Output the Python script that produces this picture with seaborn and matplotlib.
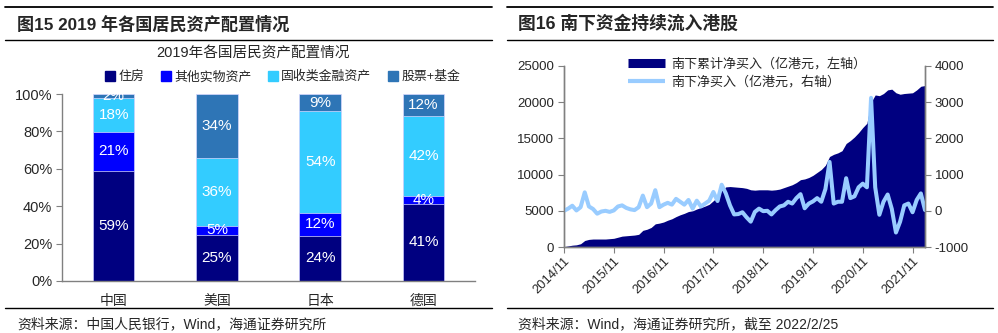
import numpy as np
import pandas as pd
import matplotlib
matplotlib.use("Agg")
import matplotlib.pyplot as plt
import seaborn as sns
from matplotlib.lines import Line2D

# ---------------- data: left chart ----------------
countries = ["中国", "美国", "日本", "德国"]
asset_names = ["住房", "其他实物资产", "固收类金融资产", "股票+基金"]
housing = [59.0, 24.8, 24.2, 41.4]
other_real = [20.8, 4.8, 12.3, 4.2]
fixed_income = [18.3, 36.2, 54.4, 42.4]
equity_fund = [1.9, 34.2, 9.1, 12.0]

# ---------------- data: right chart ----------------
months = pd.date_range("2014-11-01", "2022-02-01", freq="MS")
cum_buy = [50, 150, 250, 300, 450, 900, 1050, 1100, 1100, 1100, 1100, 1150,
           1200, 1350, 1500, 1550, 1600, 1650, 1750, 2300, 2450, 2700, 3200, 3300,
           3450, 3700, 3900, 4200, 4450, 4650, 4900, 5000, 5250, 5450, 5650, 5900,
           6400, 6900, 7800, 8300, 8350, 8300, 8250, 8200, 8100, 7900, 7850, 7900,
           7900, 7900, 7850, 7900, 8000, 8200, 8400, 8600, 8900, 9300, 9400, 9600,
           9900, 10300, 10700, 11300, 12500, 12800, 13000, 13300, 14300, 14700, 15200, 15800,
           16500, 17100, 20000, 21000, 20900, 21200, 21700, 21800, 21300, 21100, 21200, 21250,
           21300, 21700, 22200, 22300]
net_buy = [0, 60, 140, 10, 100, 510, 120, 50, -80, -20, 0, -30,
           10, 120, 150, 80, 40, 20, 100, 420, 100, 200, 570, 100,
           170, 220, 170, 330, 250, 170, 300, 60, 280, 120, 200, 280,
           520, 270, 720, 480, 150, -100, -90, -40, -180, -300, -30, 60,
           -10, 0, -100, 20, 120, 150, 250, 200, 350, 460, 70, 200,
           260, 350, 250, 600, 1350, 200, 250, 250, 900, 350, 400, 650,
           750, 650, 3120, 650, -110, 250, 450, 50, -600, -300, 150, 200,
           -40, 300, 480, 20]

# ---------------- style ----------------
sns.set_style("white")
plt.rcParams['font.family'] = ['Liberation Sans', 'Noto Sans CJK SC', 'DejaVu Sans']
plt.rcParams['axes.unicode_minus'] = False

W, H = 998, 333
fig = plt.figure(figsize=(W / 100, H / 100), dpi=100)

def fx(px):
    return px / W

def fy(py):
    return 1 - py / H

# panel decoration lines
for (x0, x1) in [(5, 492), (507, 993)]:
    fig.add_artist(Line2D([fx(x0), fx(x1)], [fy(7), fy(7)], color="black", lw=1.3, transform=fig.transFigure))
    fig.add_artist(Line2D([fx(x0), fx(x1)], [fy(40), fy(40)], color="black", lw=1.0, transform=fig.transFigure))
    fig.add_artist(Line2D([fx(x0), fx(x1)], [fy(308), fy(308)], color="black", lw=1.0, transform=fig.transFigure))

fig.text(fx(17), fy(24), "图15 2019 年各国居民资产配置情况", fontsize=12.3, fontweight="bold", va="center")
fig.text(fx(518), fy(24), "图16 南下资金持续流入港股", fontsize=12.8, fontweight="bold", va="center")
fig.text(fx(17), fy(324), "资料来源：中国人民银行，Wind，海通证券研究所", fontsize=10, va="center")
fig.text(fx(518), fy(324), "资料来源：Wind，海通证券研究所，截至 2022/2/25", fontsize=10, va="center")

# ---------------- left chart ----------------
colors = ["#000080", "#0000FF", "#33CCFF", "#2E75B6"]
layers = [housing, other_real, fixed_income, equity_fund]
tops = np.cumsum(np.array(layers), axis=0)

ax1 = fig.add_axes([fx(62), fy(281), fx(475 - 62), (281 - 94) / H])
for i in reversed(range(4)):
    sns.barplot(x=countries, y=tops[i], color=colors[i], width=0.4, saturation=1,
                edgecolor="#d8d8ff", linewidth=0.5, ax=ax1, order=countries)

for i in range(4):
    bottoms = tops[i] - np.array(layers[i])
    for j in range(4):
        v = layers[i][j]
        ax1.text(j, bottoms[j] + v / 2, f"{v:.0f}%", ha="center", va="center",
                 color="white", fontsize=11)

ax1.set_xlim(-0.5, 3.5)
ax1.set_ylim(0, 100)
ax1.set_yticks(range(0, 101, 20))
ax1.set_yticklabels([f"{v}%" for v in range(0, 101, 20)], fontsize=10.5)
ax1.set_xticks(range(4))
ax1.set_xticklabels(countries, fontsize=10)
ax1.set_xticks([-0.5, 0.5, 1.5, 2.5, 3.5], minor=True)
ax1.tick_params(axis="x", which="major", length=0, pad=9)
ax1.tick_params(axis="x", which="minor", length=4, color="#808080", direction="out")
ax1.tick_params(axis="y", length=4, color="#808080", direction="out", left=True, pad=3)
ax1.set_xlabel("")
ax1.set_ylabel("")
for s in ["top", "right"]:
    ax1.spines[s].set_visible(False)
for s in ["left", "bottom"]:
    ax1.spines[s].set_color("#808080")
    ax1.spines[s].set_linewidth(1.0)

fig.text(fx(253), fy(53), "2019年各国居民资产配置情况", ha="center", va="center", fontsize=10.5)
leg_handles = [Line2D([0], [0], marker="s", linestyle="none", markersize=6.5,
                      markerfacecolor=c, markeredgecolor=c) for c in colors]
fig.legend(leg_handles, asset_names, loc="center", bbox_to_anchor=(fx(283), fy(77)),
           ncol=4, frameon=False, fontsize=9.3, handlelength=0.7, handletextpad=0.3,
           columnspacing=1.3, borderpad=0)

# ---------------- right chart ----------------
x = np.arange(len(months))
ax2 = fig.add_axes([fx(564), fy(247), fx(925 - 564), (247 - 66) / H])
ax2.fill_between(x, cum_buy, 0, color="#000080", lw=0)
ax2.set_xlim(0, len(months) - 1)
ax2.set_ylim(0, 25000)
ax2.set_yticks(range(0, 25001, 5000))
ax2.set_yticklabels([str(v) for v in range(0, 25001, 5000)], fontsize=9.5)
tick_pos = x[::12]
ax2.set_xticks(tick_pos)
ax2.set_xticklabels([months[i].strftime("%Y/%m") for i in tick_pos], rotation=45,
                    ha="right", rotation_mode="anchor", fontsize=9.3)
ax2.tick_params(axis="x", length=4, color="#808080", direction="out", bottom=True, pad=2)
ax2.tick_params(axis="y", length=4, color="#808080", direction="out", left=True, pad=3)

ax3 = ax2.twinx()
sns.lineplot(x=x, y=net_buy, ax=ax3, color="#99CCFF", linewidth=2.9,
             solid_joinstyle="round", solid_capstyle="round")
ax3.set_ylim(-1000, 4000)
ax3.set_yticks(range(-1000, 4001, 1000))
ax3.set_yticklabels([str(v) for v in range(-1000, 4001, 1000)], fontsize=9.5)
ax3.tick_params(axis="y", length=4, color="#808080", direction="out", right=True, pad=3)
ax3.set_ylabel("")
ax3.set_xlim(0, len(months) - 1)
for a in (ax2, ax3):
    a.spines["top"].set_visible(False)
    for s in ["left", "right", "bottom"]:
        a.spines[s].set_color("#808080")
        a.spines[s].set_linewidth(1.0)

r_handles = [Line2D([0], [0], color="#000080", lw=6.5, solid_capstyle="butt"),
             Line2D([0], [0], color="#99CCFF", lw=3, solid_capstyle="butt")]
fig.legend(r_handles, ["南下累计净买入（亿港元，左轴）", "南下净买入（亿港元，右轴）"],
           loc="upper left", bbox_to_anchor=(fx(621), fy(51)), frameon=False, fontsize=9.4,
           handlelength=2.9, handletextpad=0.45, labelspacing=0.45, borderpad=0)

fig.savefig("out.png", dpi=100)
